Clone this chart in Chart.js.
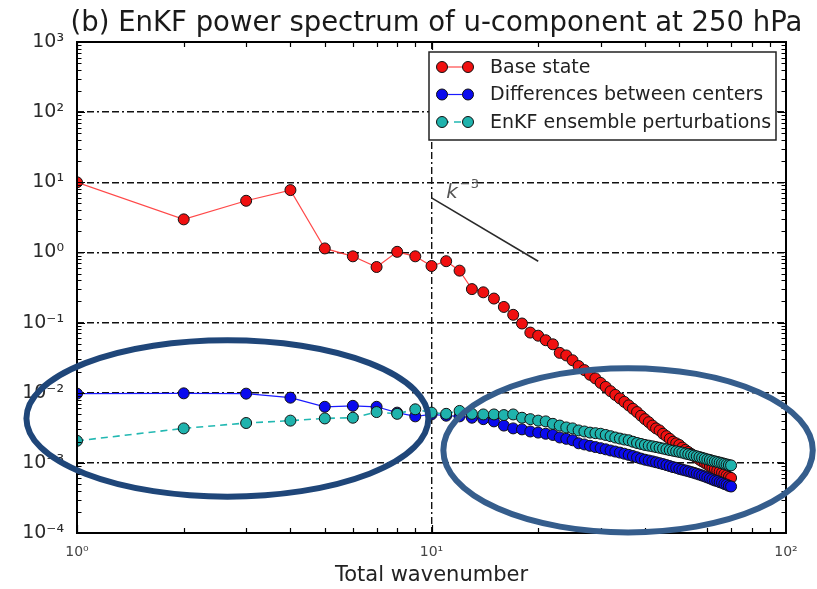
<!DOCTYPE html>
<html><head><meta charset="utf-8">
<script src="https://cdn.jsdelivr.net/npm/chart.js@4.4.1/dist/chart.umd.min.js"></script>
<style>html,body{margin:0;padding:0;background:#fff;}canvas{display:block;}</style>
</head><body>
<canvas id="c" width="817" height="589"></canvas>
<script>
const chartTitle = '(b) EnKF power spectrum of u-component at 250 hPa';
const xAxisTitle = 'Total wavenumber';
const seriesNames = ['Base state', 'Differences between centers', 'EnKF ensemble perturbations'];

const wavenumbers = [1,2,3,4,5,6,7,8,9,10,11,12,13,14,15,16,17,18,19,20,21,22,23,24,25,26,27,28,29,30,31,32,33,34,35,36,37,38,39,40,41,42,43,44,45,46,47,48,49,50,51,52,53,54,55,56,57,58,59,60,61,62,63,64,65,66,67,68,69,70];

const baseState = [10,2.96,5.45,7.74,1.14,0.88,0.62,1.02,0.88,0.64,0.75,0.55,0.30,0.27,0.22,0.167,0.129,0.097,0.072,0.065,0.056,0.049,0.037,0.034,0.029,0.024,0.021,0.018,0.016,0.0138,0.0121,0.0105,0.0093,0.0083,0.0074,0.0066,0.0059,0.0053,0.0047,0.0042,0.0038,0.0034,0.0031,0.0029,0.0026,0.0024,0.0022,0.0020,0.0019,0.0018,0.00165,0.00153,0.00143,0.00134,0.00126,0.00118,0.00111,0.00105,0.00100,0.00095,0.00090,0.00086,0.00082,0.00078,0.00075,0.00072,0.00069,0.00066,0.00063,0.00061];

const centerDifferences = [0.0097,0.0098,0.0097,0.0085,0.0063,0.0065,0.0063,0.0052,0.0046,0.0049,0.0047,0.0046,0.0044,0.0042,0.0039,0.0034,0.0031,0.0030,0.0028,0.0027,0.0026,0.0025,0.0023,0.0022,0.0021,0.0019,0.00183,0.00175,0.00168,0.00162,0.00156,0.0015,0.00145,0.0014,0.00135,0.0013,0.00125,0.0012,0.00115,0.00111,0.00108,0.00105,0.00102,0.00099,0.00096,0.00093,0.0009,0.00087,0.00085,0.00082,0.0008,0.00078,0.00076,0.00074,0.00072,0.0007,0.00068,0.00066,0.00064,0.00062,0.0006,0.00058,0.00056,0.00055,0.00053,0.00052,0.0005,0.00049,0.00047,0.00046];

const ensemblePerturbations = [0.00206,0.0031,0.0037,0.0040,0.0043,0.0044,0.0053,0.0050,0.0058,0.0052,0.0050,0.0055,0.0050,0.0049,0.0049,0.0048,0.0049,0.0044,0.0042,0.0040,0.0039,0.0036,0.0034,0.0032,0.0031,0.0029,0.0028,0.0027,0.00265,0.0026,0.0025,0.0024,0.0023,0.00222,0.00215,0.0021,0.0020,0.00192,0.00186,0.0018,0.00176,0.00172,0.00168,0.00164,0.0016,0.00156,0.00152,0.00149,0.00146,0.00143,0.0014,0.00136,0.00133,0.0013,0.00127,0.00124,0.00121,0.00118,0.00115,0.00112,0.0011,0.00107,0.00105,0.00103,0.00101,0.00099,0.00097,0.00095,0.00093,0.00092];

const refSlopeK = [10, 20];
const refSlopeVals = [6, 0.75];
const refSlopeLabel = 'k';
const refSlopeExp = '\u22123';

const xTickValues = [1, 10, 100];
const xTickLabels = ['10\u2070', '10\u00b9', '10\u00b2'];
const yTickValues = [1e-4, 1e-3, 1e-2, 1e-1, 1, 10, 100, 1000];
const yTickLabels = ['10\u207b\u2074', '10\u207b\u00b3', '10\u207b\u00b2', '10\u207b\u00b9', '10\u2070', '10\u00b9', '10\u00b2', '10\u00b3'];

// highlighted regions (annotation ellipses), given by data-space bounds
const highlightK = [[0.72, 9.8], [10.8, 119]];
const highlightV = [[3.3e-4, 0.056], [1.02e-4, 0.0224]];

const FONT = "'DejaVu Sans', sans-serif";
const pts = (vals) => wavenumbers.map((k, i) => ({x: k, y: vals[i]}));

const styles = [
  {line: 'rgba(255,40,40,0.85)', fill: '#f01010', dash: [], width: 1.2},
  {line: '#1a1aff', fill: '#0a0aee', dash: [], width: 1.2},
  {line: '#22b8b2', fill: '#1fb3ad', dash: [7, 5], width: 1.6}
];

const extras = {
  id: 'extras',
  afterDraw(chart) {
    const {ctx, chartArea: a, scales: {x, y}} = chart;
    ctx.save();
    // minor / major inward ticks
    ctx.strokeStyle = '#000';
    ctx.lineWidth = 1.2;
    ctx.beginPath();
    for (let d = 0; d < 2; d++) for (let m = 1; m < 10; m++) {
      const px = Math.round(x.getPixelForValue(m * Math.pow(10, d))) + 0.5;
      const len = m === 1 ? 8 : 5;
      ctx.moveTo(px, a.bottom); ctx.lineTo(px, a.bottom - len);
      ctx.moveTo(px, a.top); ctx.lineTo(px, a.top + len);
    }
    for (let d = -4; d < 3; d++) for (let m = 1; m < 10; m++) {
      const py = Math.round(y.getPixelForValue(m * Math.pow(10, d))) + 0.5;
      const len = m === 1 ? 8 : 4.5;
      ctx.moveTo(a.left, py); ctx.lineTo(a.left + len, py);
      ctx.moveTo(a.right, py); ctx.lineTo(a.right - len, py);
    }
    ctx.stroke();
    ctx.lineWidth = 2;
    ctx.strokeRect(a.left, a.top, a.right - a.left, a.bottom - a.top);

    // title
    ctx.fillStyle = '#1a1a1a';
    ctx.font = '27.5px ' + FONT;
    ctx.textAlign = 'center';
    ctx.textBaseline = 'alphabetic';
    ctx.fillText(chartTitle, (a.left + a.right) / 2 + 5, 31);

    // slope label
    const lx = x.getPixelForValue(11.0), ly = y.getPixelForValue(6.0);
    ctx.fillStyle = '#555';
    ctx.textAlign = 'left';
    ctx.font = 'italic 20px ' + FONT;
    ctx.fillText(refSlopeLabel, lx, ly);
    const kw = ctx.measureText(refSlopeLabel).width;
    ctx.font = '13px ' + FONT;
    ctx.fillText(refSlopeExp, lx + kw + 2, ly - 10);

    // legend
    const bx = a.right - 357, by = a.top + 10, bw = 347, bh = 88;
    ctx.fillStyle = '#fff';
    ctx.fillRect(bx, by, bw, bh);
    ctx.strokeStyle = '#222';
    ctx.lineWidth = 1.5;
    ctx.strokeRect(bx, by, bw, bh);
    ctx.font = '19px ' + FONT;
    ctx.textBaseline = 'middle';
    seriesNames.forEach((name, i) => {
      const ry = by + 15 + i * 27.5;
      const x0 = bx + 13, x1 = bx + 39;
      const s = styles[i];
      ctx.strokeStyle = s.line; ctx.lineWidth = s.width; ctx.setLineDash(s.dash);
      ctx.beginPath(); ctx.moveTo(x0, ry); ctx.lineTo(x1, ry); ctx.stroke();
      ctx.setLineDash([]);
      [x0, x1].forEach(cx => {
        ctx.beginPath(); ctx.arc(cx, ry, 5.5, 0, Math.PI * 2);
        ctx.fillStyle = s.fill; ctx.fill();
        ctx.strokeStyle = '#111'; ctx.lineWidth = 1; ctx.stroke();
      });
      ctx.fillStyle = '#222';
      ctx.fillText(name, bx + 61, ry + 1);
    });

    // highlight ellipses
    const cols = ['#1f4679', '#355d8c'];
    highlightK.forEach((kr, i) => {
      const xl = x.getPixelForValue(kr[0]), xr = x.getPixelForValue(kr[1]);
      const yt = y.getPixelForValue(highlightV[i][1]), yb = y.getPixelForValue(highlightV[i][0]);
      ctx.beginPath();
      ctx.ellipse((xl + xr) / 2, (yt + yb) / 2, (xr - xl) / 2, (yb - yt) / 2, 0, 0, Math.PI * 2);
      ctx.strokeStyle = cols[i]; ctx.lineWidth = 6; ctx.stroke();
    });
    ctx.restore();
  }
};

const mk = (i, vals, order) => ({
  label: seriesNames[i], data: pts(vals), showLine: true,
  borderColor: styles[i].line, borderWidth: styles[i].width, borderDash: styles[i].dash,
  pointRadius: 5.5, pointBackgroundColor: styles[i].fill, pointBorderColor: '#111', pointBorderWidth: 1,
  order
});

new Chart(document.getElementById('c'), {
  type: 'scatter',
  data: {
    datasets: [
      mk(0, baseState, 3),
      mk(1, centerDifferences, 2),
      mk(2, ensemblePerturbations, 1),
      {label: 'k^-3', data: refSlopeK.map((k, i) => ({x: k, y: refSlopeVals[i]})), showLine: true,
       borderColor: '#2a2a2a', borderWidth: 1.6, pointRadius: 0, order: 4}
    ]
  },
  options: {
    responsive: false, animation: false, devicePixelRatio: 1,
    layout: {padding: {top: 42, right: 31, left: 0, bottom: 0}},
    plugins: {legend: {display: false}, tooltip: {enabled: false}, title: {display: false}},
    scales: {
      x: {
        type: 'logarithmic', min: 1, max: 100,
        afterBuildTicks(s) { s.ticks = xTickValues.map(v => ({value: v})); },
        afterFit(s) { s.height = 56; },
        ticks: {callback: (v, i) => xTickLabels[i], font: {size: 14, family: FONT}, color: '#444', padding: 11, maxRotation: 0, autoSkip: false},
        grid: {color: '#111', lineWidth: 1.4, drawTicks: false},
        border: {display: false, dash: [7, 3, 7, 3, 2, 3]},
        title: {display: true, text: xAxisTitle, font: {size: 21, family: FONT}, color: '#222', padding: {top: 0, bottom: 1}}
      },
      y: {
        type: 'logarithmic', min: 1e-4, max: 1e3,
        afterBuildTicks(s) { s.ticks = yTickValues.map(v => ({value: v})); },
        afterFit(s) { s.width = 77; },
        ticks: {callback: (v, i) => yTickLabels[i], font: {size: 19, family: FONT}, color: '#2a2a2a', padding: 13, autoSkip: false},
        grid: {color: '#111', lineWidth: 1.4, drawTicks: false},
        border: {display: false, dash: [7, 3, 7, 3, 2, 3]}
      }
    }
  },
  plugins: [extras]
});
</script>
</body></html>
